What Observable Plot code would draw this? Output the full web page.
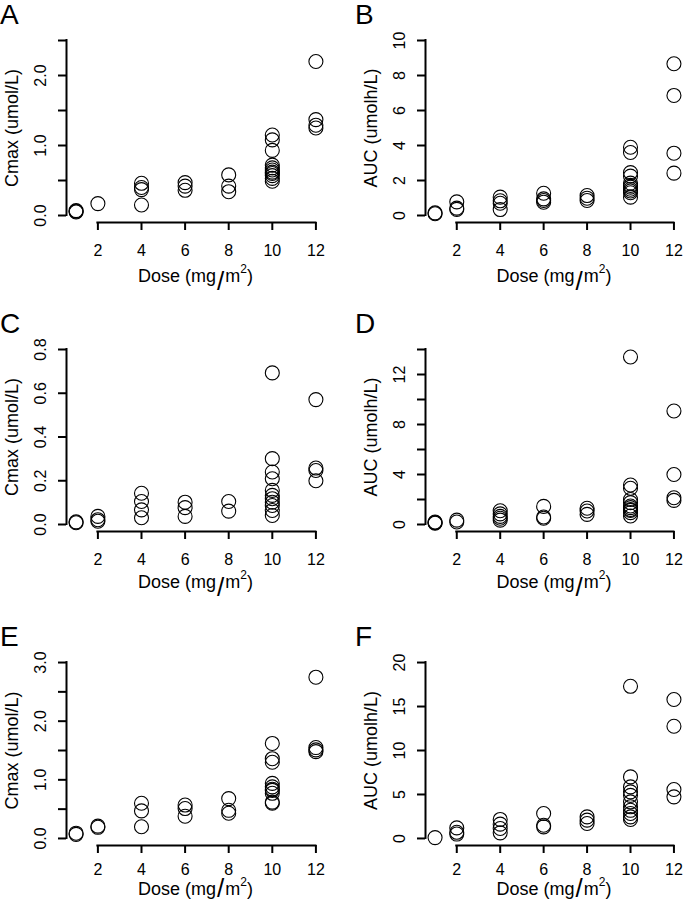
<!DOCTYPE html>
<html><head><meta charset="utf-8">
<script src="https://cdn.jsdelivr.net/npm/d3@7"></script>
<script src="https://cdn.jsdelivr.net/npm/@observablehq/plot@0.6"></script>
<style>
html,body{margin:0;padding:0;background:#fff;overflow:hidden;}
#fig{position:relative;width:685px;height:905px;font-family:"Liberation Sans",Arial,Helvetica,sans-serif;color:#000;}
.panel{position:absolute;}
.letter{position:absolute;font-size:28px;line-height:28px;}
</style></head><body><div id="fig"></div>
<script>
// ---- data ----
const doseLevels = [1, 2, 4, 6, 8, 10, 12];
const xTicks = [2, 4, 6, 8, 10, 12];

// values per dose level (same order as doseLevels)
const cmaxA = [[0.05, 0.06, 0.07], [0.17], [0.46, 0.40, 0.37, 0.15], [0.47, 0.42, 0.36], [0.58, 0.42, 0.34],
  [1.15, 1.08, 0.93, 0.72, 0.68, 0.65, 0.62, 0.60, 0.57, 0.53, 0.49], [2.20, 1.37, 1.29, 1.25]];
const aucB = [[0.10, 0.15], [0.78, 0.42, 0.35], [1.05, 0.84, 0.70, 0.34], [1.27, 0.95, 0.86, 0.76], [1.14, 0.99, 0.86],
  [3.90, 3.60, 2.45, 2.25, 1.85, 1.72, 1.62, 1.50, 1.40, 1.30, 1.05], [8.67, 6.86, 3.56, 2.42]];
const cmaxC = [[0.008, 0.012], [0.037, 0.022, 0.015], [0.143, 0.105, 0.067, 0.031], [0.102, 0.077, 0.037], [0.105, 0.061],
  [0.693, 0.301, 0.240, 0.209, 0.156, 0.133, 0.118, 0.102, 0.087, 0.064, 0.041], [0.571, 0.258, 0.247, 0.200]];
const aucD = [[0.10, 0.15, 0.20], [0.35, 0.20], [1.10, 0.85, 0.65, 0.50, 0.35], [1.45, 0.60, 0.50], [1.30, 1.08, 0.81],
  [13.4, 3.16, 2.90, 2.00, 1.75, 1.48, 1.35, 1.20, 1.13, 0.95, 0.68], [9.08, 4.00, 2.14, 1.93]];
const cmaxE = [[0.07, 0.09], [0.19, 0.21], [0.60, 0.47, 0.20], [0.57, 0.51, 0.38], [0.68, 0.48, 0.43],
  [1.62, 1.36, 1.30, 0.94, 0.88, 0.84, 0.82, 0.77, 0.62, 0.60], [2.75, 1.55, 1.51, 1.48]];
const aucF = [[0.1], [1.2, 0.7, 0.5], [2.16, 1.63, 1.13, 0.64], [2.84, 1.50, 1.32], [2.45, 2.08, 1.70],
  [17.3, 7.0, 5.86, 5.3, 4.9, 4.16, 3.6, 3.2, 2.84, 2.45, 2.16], [15.8, 12.76, 5.57, 4.73]];

// y-axis ticks and labelled ticks
const yTicksA = [0, 0.5, 1, 1.5, 2, 2.5], yLabelsA = [0, 1, 2];
const yTicksB = [0, 2, 4, 6, 8, 10], yLabelsB = [0, 2, 4, 6, 8, 10];
const yTicksC = [0, 0.2, 0.4, 0.6, 0.8], yLabelsC = [0, 0.2, 0.4, 0.6, 0.8];
const yTicksD = [0, 2, 4, 6, 8, 10, 12, 14], yLabelsD = [0, 4, 8, 12];
const yTicksE = [0, 0.5, 1, 1.5, 2, 2.5, 3], yLabelsE = [0, 1, 2, 3];
const yTicksF = [0, 5, 10, 15, 20], yLabelsF = [0, 5, 10, 15, 20];

const letters = ["A", "B", "C", "D", "E", "F"];
const yTitles = ["Cmax (umol/L)", "AUC (umolh/L)", "Cmax (umol/L)", "AUC (umolh/L)", "Cmax (umol/L)", "AUC (umolh/L)"];

// ---- layout ----
const cols = [{left: 0, ml: 66, mr: 17, letterX: 0}, {left: 343, ml: 82, mr: 2, letterX: 355}];
const rows = [
  {top: 0, height: 300, mt: 33, mb: 78, lab: 14, title: 60, slash: 8},
  {top: 300, height: 305, mt: 42, mb: 74, lab: 14, title: 57, slash: 8},
  {top: 605, height: 300, mt: 50, mb: 60, lab: 10, title: 50, slash: 2}
];
const W = 342;

const panels = [
  {values: cmaxA, yTicks: yTicksA, yLabels: yLabelsA, fmt: d3.format(".1f")},
  {values: aucB, yTicks: yTicksB, yLabels: yLabelsB, fmt: d3.format("d")},
  {values: cmaxC, yTicks: yTicksC, yLabels: yLabelsC, fmt: d3.format(".1f")},
  {values: aucD, yTicks: yTicksD, yLabels: yLabelsD, fmt: d3.format("d")},
  {values: cmaxE, yTicks: yTicksE, yLabels: yLabelsE, fmt: d3.format(".1f")},
  {values: aucF, yTicks: yTicksF, yLabels: yLabelsF, fmt: d3.format("d")}
];

const fig = document.getElementById("fig");
const font = '"Liberation Sans", Arial, Helvetica, sans-serif';

panels.forEach((p, i) => {
  const col = cols[i % 2], row = rows[Math.floor(i / 2)];
  const data = doseLevels.flatMap((d, k) => p.values[k].map(v => ({dose: d, value: v})));
  const xr = doseLevels.at(-1) - doseLevels[0];
  const xdom = [doseLevels[0] - 0.04 * xr, doseLevels.at(-1) + 0.04 * xr];
  const ymax = p.yTicks.at(-1);
  const ydom = [-0.04 * ymax, ymax * 1.04];

  const chart = Plot.plot({
    width: W, height: row.height,
    marginTop: row.mt, marginBottom: row.mb, marginLeft: col.ml, marginRight: col.mr,
    x: {domain: xdom}, y: {domain: ydom},
    style: {fontFamily: font, color: "black", background: "transparent", overflow: "visible"},
    marks: [
      Plot.ruleY([ydom[0]], {x1: xTicks[0], x2: xTicks.at(-1), strokeWidth: 2, strokeLinecap: "square"}),
      Plot.ruleX([xdom[0]], {y1: p.yTicks[0], y2: ymax, strokeWidth: 2, strokeLinecap: "square"}),
      Plot.axisX(xTicks, {tickSize: 8, tickPadding: row.lab, fontSize: 16, strokeWidth: 2, label: null}),
      Plot.axisY(p.yTicks, {tickSize: 8, fill: "none", strokeWidth: 2, label: null}),
      Plot.text(p.yLabels, {y: d => d, frameAnchor: "left", dx: -26, rotate: -90, text: p.fmt,
        fontSize: 16, textAnchor: "middle", lineAnchor: "middle", fill: "black"}),
      Plot.text([yTitles[i]], {frameAnchor: "left", dx: -54, rotate: -90, text: d => d,
        fontSize: 18, textAnchor: "middle", lineAnchor: "middle", fill: "black"}),
      Plot.dot(data, {x: "dose", y: "value", r: 7, stroke: "black", strokeWidth: 1.1, fill: "none"})
    ]
  });

  // x-axis title with plotmath-like slash and superscript
  const svg = d3.select(chart);
  const cx = (col.ml + (W - col.mr)) / 2;
  const t = svg.append("text")
    .attr("x", cx).attr("y", row.height - row.mb + row.title)
    .attr("text-anchor", "middle").attr("font-size", 18).attr("font-family", font).attr("fill", "black");
  t.append("tspan").text("Dose (mg");
  t.append("tspan").attr("font-size", 26).attr("font-weight", 300).attr("dy", row.slash).attr("dx", 1).text("/");
  t.append("tspan").attr("dy", -row.slash).attr("dx", 1).text("m");
  t.append("tspan").attr("font-size", 12).attr("dy", -9).text("2");
  t.append("tspan").attr("dy", 9).text(")");

  const wrap = document.createElement("div");
  wrap.className = "panel";
  wrap.style.left = col.left + "px";
  wrap.style.top = row.top + "px";
  wrap.appendChild(chart);
  fig.appendChild(wrap);

  const L = document.createElement("div");
  L.className = "letter";
  L.textContent = letters[i];
  L.style.left = col.letterX + "px";
  L.style.top = (row.top + row.mt - 8 - 24) + "px";
  fig.appendChild(L);
});
</script>
</body></html>
